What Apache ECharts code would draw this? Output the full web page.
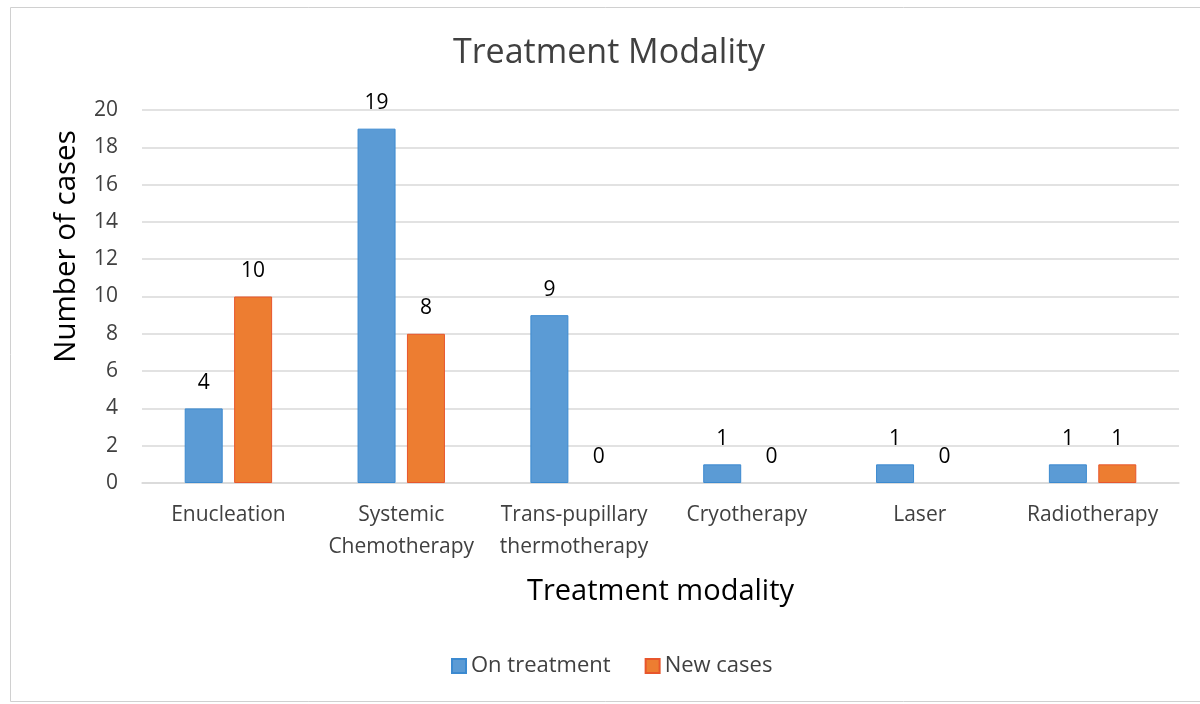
<!DOCTYPE html>
<html>
<head>
<meta charset="utf-8">
<script src="https://cdn.jsdelivr.net/npm/echarts@6/dist/echarts.min.js"></script>
<style>
html,body{margin:0;padding:0;background:#fff;}
#chart{width:1200px;height:704px;}
</style>
</head>
<body>
<div id="chart"></div>
<script>
const categories = ['Enucleation', 'Systemic\nChemotherapy', 'Trans-pupillary\nthermotherapy', 'Cryotherapy', 'Laser', 'Radiotherapy'];
const onTreatment = [4, 19, 9, 1, 1, 1];
const newCases = [10, 8, 0, 0, 0, 1];
const seriesNames = ['On treatment', 'New cases'];

const FONT = 'Open Sans';
const chart = echarts.init(document.getElementById('chart'));
const labelCfg = {
  show: true, position: 'top', distance: 15,
  color: '#000', fontSize: 21, fontFamily: FONT
};
function items(arr) {
  return arr.map(v => v === 0 ? { value: v, itemStyle: { borderWidth: 0 } } : v);
}
chart.setOption({
  animation: false,
  backgroundColor: '#fff',
  textStyle: { fontFamily: FONT },
  graphic: [{
    type: 'rect', shape: { x: 10.5, y: 7.5, width: 1200, height: 694 },
    style: { fill: 'none', stroke: '#d0d0d0', lineWidth: 1 }, silent: true
  }],
  title: {
    text: 'Treatment Modality', left: 448, top: 31,
    textStyle: { fontFamily: FONT, fontSize: 34, fontWeight: 'normal', color: '#404040' }
  },
  legend: {
    bottom: 22, left: 446, itemWidth: 14, itemHeight: 14, itemGap: 34,
    icon: 'rect',
    textStyle: { fontFamily: FONT, fontSize: 22, color: '#404040' },
    data: seriesNames
  },
  grid: { left: 142, right: 21, top: 110, bottom: 221, containLabel: false },
  xAxis: {
    type: 'category', data: categories,
    name: 'Treatment modality', nameLocation: 'middle', nameGap: 94,
    nameTextStyle: { fontFamily: FONT, fontSize: 29, color: '#000' },
    axisLine: { lineStyle: { color: '#d9d9d9', width: 1.5 } },
    axisTick: { show: false },
    axisLabel: { fontFamily: FONT, fontSize: 21, color: '#404040', lineHeight: 32, margin: 16, interval: 0 }
  },
  yAxis: {
    type: 'value', min: 0, max: 20, interval: 2,
    name: 'Number of cases', nameLocation: 'middle', nameGap: 60, nameRotate: 90,
    nameTextStyle: { fontFamily: FONT, fontSize: 29.5, color: '#000', padding: [0, 0, 0, 100] },
    axisLine: { show: false }, axisTick: { show: false },
    axisLabel: { fontFamily: FONT, fontSize: 21, color: '#404040', margin: 24 },
    splitLine: { lineStyle: { color: '#d9d9d9', width: 1.5 } }
  },
  series: [
    {
      name: seriesNames[0], type: 'bar', data: items(onTreatment), barWidth: 38, barGap: '30%',
      itemStyle: { color: '#5b9bd5', borderColor: '#3c8ad0', borderWidth: 1 },
      label: labelCfg
    },
    {
      name: seriesNames[1], type: 'bar', data: items(newCases), barWidth: 38,
      itemStyle: { color: '#ed7d31', borderColor: '#e8562c', borderWidth: 1 },
      label: labelCfg
    }
  ]
});
</script>
</body>
</html>
